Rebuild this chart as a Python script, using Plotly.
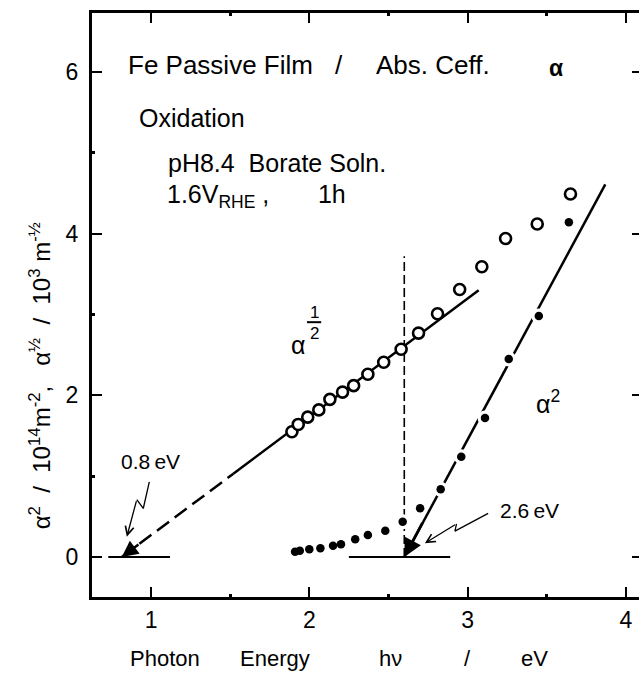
import plotly.graph_objects as go

# ---- data ----
# alpha^(1/2) (open circles), 10^3 m^-1/2
half_x = [1.89, 1.93, 1.99, 2.06, 2.13, 2.21, 2.28, 2.37, 2.47, 2.58, 2.69, 2.81, 2.95, 3.09, 3.24, 3.44, 3.65]
half_y = [1.55, 1.64, 1.73, 1.82, 1.95, 2.04, 2.12, 2.26, 2.41, 2.57, 2.77, 3.01, 3.31, 3.59, 3.94, 4.12, 4.49]
# alpha^2 (filled dots), 10^14 m^-2
sq_x = [1.91, 1.94, 2.00, 2.07, 2.15, 2.20, 2.29, 2.37, 2.48, 2.59, 2.70, 2.83, 2.96, 3.11, 3.26, 3.45, 3.64]
sq_y = [0.066, 0.078, 0.095, 0.108, 0.140, 0.157, 0.219, 0.272, 0.325, 0.437, 0.603, 0.838, 1.24, 1.72, 2.45, 2.98, 4.14]

# fitted straight lines
half_fit_dash_x = [0.815, 1.52]
half_fit_dash_y = [0.0, 1.03]
half_fit_solid_x = [1.52, 3.07]
half_fit_solid_y = [1.03, 3.30]
sq_fit_x = [2.6, 3.87]
sq_fit_y = [0.0, 4.61]

# guide lines
vline_x = [2.6, 2.6]
vline_y = [0.0, 3.72]
base1_x = [0.73, 1.12]
base2_x = [2.25, 2.89]
base_y = [0.0, 0.0]

# lightning-style pointers
zig08_x = [0.989, 0.951, 0.910, 0.847]
zig08_y = [0.93, 0.60, 0.71, 0.25]
zig26_x = [3.13, 2.92, 2.93, 2.73]
zig26_y = [0.54, 0.32, 0.41, 0.17]

gap_08 = 0.815   # eV
gap_26 = 2.6     # eV

x_ticks = [1, 2, 3, 4]
x_minor = [1.5, 2.5, 3.5]
y_ticks = [0, 2, 4, 6]
y_minor = [1, 3, 5]

FONT = "Liberation Sans"
K = "black"

fig = go.Figure()

def line(x, y, width=2.5, dash="solid"):
    fig.add_trace(go.Scatter(x=x, y=y, mode="lines", line=dict(color=K, width=width, dash=dash),
                             hoverinfo="skip", showlegend=False))

line(half_fit_dash_x, half_fit_dash_y, 2.5, "15px,7px")
line(half_fit_solid_x, half_fit_solid_y, 2.5)
line(sq_fit_x, sq_fit_y, 2.5)
line(vline_x, vline_y, 1.6, "9px,4px")
line(base1_x, base_y, 1.8)
line(base2_x, base_y, 1.8)
line(zig08_x[:3], zig08_y[:3], 1.3)
line(zig26_x[:3], zig26_y[:3], 1.3)

# white halo behind dots, then the dots
fig.add_trace(go.Scatter(x=sq_x, y=sq_y, mode="markers",
                         marker=dict(size=15, color="white", line=dict(width=0)),
                         hoverinfo="skip", showlegend=False))
fig.add_trace(go.Scatter(x=sq_x, y=sq_y, mode="markers",
                         marker=dict(size=8.5, color=K, line=dict(width=0)),
                         showlegend=False))
fig.add_trace(go.Scatter(x=half_x, y=half_y, mode="markers",
                         marker=dict(size=11, color="white", line=dict(width=2.6, color=K)),
                         showlegend=False))

ann = []
def arrow(x, y, ax, ay, head, size, width):
    ann.append(dict(x=x, y=y, ax=ax, ay=ay, xref="x", yref="y", axref="x", ayref="y",
                    text="", showarrow=True, arrowhead=head, arrowsize=size,
                    arrowwidth=width, arrowcolor=K, standoff=0, startstandoff=0))

arrow(gap_08, 0.0, 0.93, 0.17, 2, 1.3, 2.5)
arrow(gap_26, 0.0, 2.72, 0.44, 2, 1.3, 2.8)
arrow(zig08_x[3], zig08_y[3], zig08_x[2], zig08_y[2], 5, 1.3, 1.3)
arrow(zig26_x[3], zig26_y[3], zig26_x[2], zig26_y[2], 5, 1.3, 1.3)

def txt(x, y, s, size=25, xanchor="left", ref="x", **kw):
    d = dict(x=x, y=y, text=s, showarrow=False, xanchor=xanchor, yanchor="middle",
             font=dict(family=FONT, size=size, color=K))
    if ref == "x":
        d.update(xref="x", yref="y")
    else:
        d.update(xref="paper", yref="paper")
    d.update(kw)
    ann.append(d)

txt(0.842, 6.09, "Fe Passive Film", 26)
txt(2.185, 6.09, "/", 26, xanchor="center")
txt(2.41, 6.09, "Abs. Ceff.", 26)
txt(3.50, 6.05, "<b>α</b>", 23)
txt(0.911, 5.43, "Oxidation")
txt(1.095, 4.88, "pH8.4\u00a0 Borate Soln.")
txt(1.09, 4.47, "1.6V<sub>RHE</sub> ,\u00a0\u00a0\u00a0\u00a0\u00a0\u00a0 1h")
txt(1.87, 2.62, "α", 25)
txt(2.03, 3.02, "1", 17, xanchor="center")
txt(2.03, 2.77, "2", 17, xanchor="center")
txt(3.42, 1.92, "α<sup>2</sup>", 25)
txt(0.80, 1.18, "0.8\u2009eV", 21)
txt(3.19, 0.58, "2.6\u2009eV", 21)

# axis titles (paper coordinates)
XT_Y = -0.106
txt(0.0658, XT_Y, "Photon", 22, ref="paper")
txt(0.267, XT_Y, "Energy", 22, ref="paper")
txt(0.521, XT_Y, "hν", 22, ref="paper")
txt(0.6856, XT_Y, "/", 22, xanchor="center", ref="paper")
txt(0.7806, XT_Y, "eV", 22, ref="paper")
txt(-0.095, 0.378,
    "α<sup>2</sup>\u00a0\u00a0/\u00a0\u00a010<sup>14</sup>m<sup>-2</sup>,\u00a0\u00a0\u00a0α<sup>½</sup>\u00a0\u00a0/\u00a0\u00a010<sup>3</sup>\u00a0m<sup>-½</sup>",
    24, xanchor="center", ref="paper", textangle=-90)

fig.update_layout(
    width=639, height=673,
    margin=dict(l=92, r=0, t=13, b=76),
    plot_bgcolor="white", paper_bgcolor="white",
    showlegend=False,
    annotations=ann,
    shapes=[dict(type="line", xref="x", yref="y", x0=1.985, x1=2.075, y0=2.905, y1=2.905,
                 line=dict(color=K, width=2))],
    xaxis=dict(range=[0.627, 4.083], tickvals=x_ticks, ticks="inside", ticklen=10, tickwidth=2,
               tickcolor=K, showline=True, linewidth=3, linecolor=K, mirror="ticks",
               showgrid=False, zeroline=False,
               tickfont=dict(family=FONT, size=23, color=K),
               minor=dict(tickvals=x_minor, ticks="inside", ticklen=3, tickwidth=3, tickcolor=K)),
    yaxis=dict(range=[-0.495, 6.73], tickvals=y_ticks, ticks="inside", ticklen=10, tickwidth=2,
               tickcolor=K, showline=True, linewidth=3, linecolor=K, mirror=False,
               showgrid=False, zeroline=False, ticklabelstandoff=6,
               tickfont=dict(family=FONT, size=23, color=K),
               minor=dict(tickvals=y_minor, ticks="inside", ticklen=3, tickwidth=3, tickcolor=K)),
    yaxis2=dict(overlaying="y", side="right", matches="y", range=[-0.495, 6.73], tickvals=y_ticks,
                ticks="inside", ticklen=7, tickwidth=2, tickcolor=K, showticklabels=False,
                showline=False, showgrid=False, zeroline=False),
)
# invisible trace to activate the right-side axis
fig.add_trace(go.Scatter(x=[None], y=[None], yaxis="y2", showlegend=False, hoverinfo="skip"))

fig.write_html("out.html", config={"displayModeBar": False},
               post_script="document.body.style.margin='0px';document.body.style.overflow='hidden';")
